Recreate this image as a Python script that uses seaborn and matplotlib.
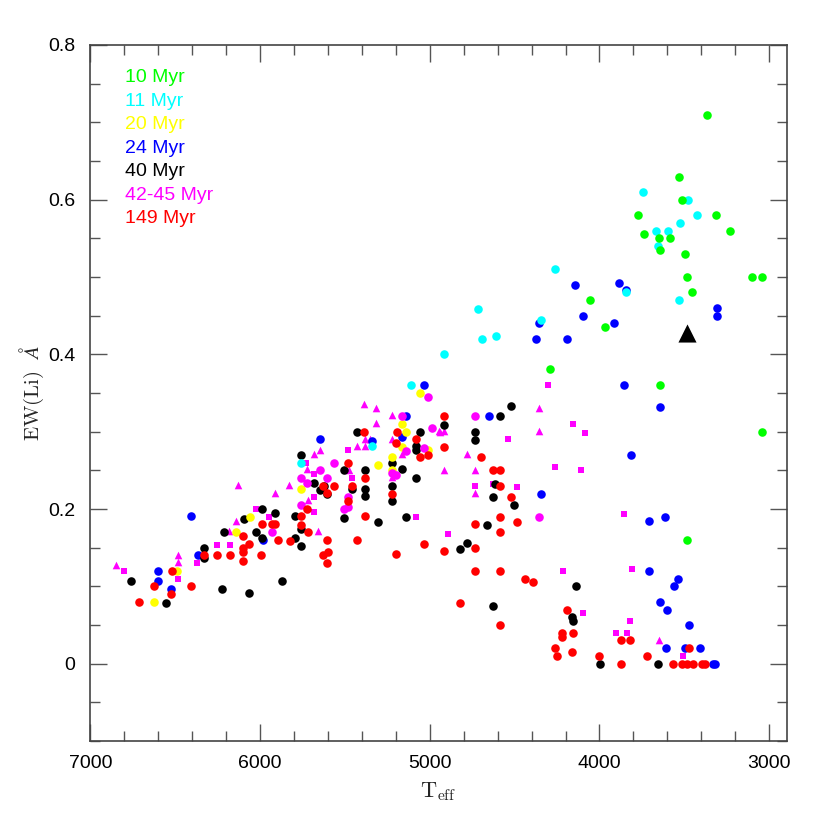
import matplotlib
matplotlib.use("Agg")
import matplotlib.pyplot as plt
import seaborn as sns
from matplotlib.ticker import MultipleLocator

# Li equivalent width vs Teff, one group per cluster age
green_T = [3369, 3529, 3511, 3775, 3316, 3233, 3737, 3649, 3586, 3643, 3497, 3487, 3100, 3043, 3452, 4056, 3969, 4294, 3643, 3043, 3487]
green_EW = [0.71, 0.629, 0.60, 0.58, 0.58, 0.56, 0.555, 0.55, 0.55, 0.535, 0.53, 0.50, 0.50, 0.50, 0.48, 0.47, 0.435, 0.381, 0.36, 0.30, 0.16]

cyan_T = [3743, 3481, 3426, 3525, 3667, 3597, 3655, 3845, 3533, 4264, 4718, 4347, 4691, 4612, 4915, 5110, 5342, 5759]
cyan_EW = [0.61, 0.60, 0.58, 0.57, 0.56, 0.56, 0.54, 0.48, 0.47, 0.51, 0.459, 0.445, 0.42, 0.424, 0.40, 0.36, 0.281, 0.26]

yellow_T = [5057, 5165, 5139, 5163, 5008, 5303, 5220, 5220, 5759, 6062, 6140, 6487, 6622]
yellow_EW = [0.35, 0.31, 0.30, 0.28, 0.276, 0.257, 0.267, 0.25, 0.226, 0.19, 0.17, 0.12, 0.08]

blue_T = [3885, 3845, 3308, 3310, 3916, 4144, 4095, 4358, 4372, 4193, 4652, 4347, 3855, 3643, 3812,
          3711, 3613, 3710, 3539, 3560, 3643, 3602, 3475, 3608, 3495, 3409, 3330, 3320, 5033, 5137,
          5165, 5342, 5645, 5983, 6406, 6599, 6599, 6524, 6366]
blue_EW = [0.492, 0.483, 0.46, 0.45, 0.44, 0.49, 0.45, 0.44, 0.42, 0.42, 0.32, 0.22, 0.36, 0.332, 0.27,
           0.185, 0.19, 0.12, 0.11, 0.10, 0.08, 0.07, 0.05, 0.02, 0.02, 0.02, 0.0, 0.0, 0.36, 0.32,
           0.293, 0.288, 0.29, 0.16, 0.191, 0.12, 0.107, 0.096, 0.14]

black_T = [6760, 6555, 6225, 6064, 6329, 6329, 6215, 6093, 6026, 5987, 5987, 5912, 5873, 5794, 5794,
           5759, 5759, 5759, 5682, 5645, 5605, 5625, 5503, 5503, 5431, 5381, 5381, 5381, 5456, 5303,
           5220, 5220, 5220, 5165, 5139, 5083, 5083, 5080, 5055, 4522, 4585, 4915, 4732, 4732, 4630,
           4616, 4504, 4661, 4782, 4823, 4630, 4136, 4162, 4154, 3995, 3655]
black_EW = [0.107, 0.079, 0.097, 0.091, 0.15, 0.137, 0.17, 0.187, 0.17, 0.2, 0.162, 0.195, 0.107, 0.191, 0.163,
            0.152, 0.174, 0.27, 0.233, 0.224, 0.219, 0.23, 0.25, 0.189, 0.30, 0.25, 0.226, 0.217, 0.226, 0.183,
            0.26, 0.23, 0.21, 0.252, 0.19, 0.281, 0.276, 0.24, 0.30, 0.333, 0.32, 0.308, 0.30, 0.289, 0.216,
            0.232, 0.205, 0.179, 0.156, 0.148, 0.074, 0.10, 0.06, 0.055, 0.0, 0.0]

# 42-45 Myr: three samples, three marker shapes
mag_circ_T = [5930, 5008, 5165, 4986, 5139, 5031, 5566, 5645, 5759, 5723, 5605, 5759, 5481, 5503, 5481, 5196, 5222, 4732, 4358]
mag_circ_EW = [0.17, 0.345, 0.32, 0.305, 0.275, 0.279, 0.26, 0.25, 0.24, 0.234, 0.24, 0.205, 0.216, 0.2, 0.202, 0.244, 0.246, 0.32, 0.19]

mag_sq_T = [6799, 6483, 6369, 6254, 6178, 6026, 5950, 5727, 5680, 5680, 5680, 5480, 5456, 5080, 4305, 4154,
            4085, 4536, 4262, 4107, 4732, 4630, 4483, 4890, 4213, 4095, 3855, 3810, 3818, 3904, 3835, 3505]
mag_sq_EW = [0.12, 0.11, 0.13, 0.154, 0.154, 0.2, 0.19, 0.26, 0.245, 0.216, 0.196, 0.276, 0.24, 0.19, 0.36, 0.31,
             0.298, 0.291, 0.254, 0.251, 0.23, 0.232, 0.229, 0.168, 0.12, 0.065, 0.194, 0.123, 0.055, 0.04, 0.04, 0.01]

mag_tri_T = [6848, 6483, 6483, 6129, 6140, 6180, 5912, 5832, 5721, 5680, 5645, 5717, 5661, 5475, 5428, 5387, 5314, 5314,
             5381, 5350, 5381, 5222, 5222, 5220, 5165, 4937, 4358, 4358, 4943, 4915, 4779, 4915, 4732, 4732, 3649]
mag_tri_EW = [0.127, 0.141, 0.131, 0.231, 0.184, 0.171, 0.221, 0.231, 0.252, 0.271, 0.276, 0.212, 0.171, 0.25, 0.281, 0.336, 0.331, 0.311,
              0.291, 0.291, 0.281, 0.321, 0.291, 0.241, 0.271, 0.30, 0.331, 0.301, 0.301, 0.301, 0.271, 0.251, 0.251, 0.221, 0.031]

red_T = [6711, 6622, 6524, 6520, 6406, 6329, 6254, 6178, 6101, 6101, 6101, 6101, 6064, 5995, 5987, 5930, 5910,
         5894, 5826, 5759, 5759, 5723, 5717, 5629, 5603, 5566, 5605, 5629, 5598, 5603, 5480, 5456, 5480, 5431,
         5385, 5381, 5381, 5220, 5196, 5192, 5196, 5080, 5055, 5008, 5033, 4915, 4915, 4697, 4626, 4585, 4585,
         4520, 4585, 4487, 4732, 4585, 4732, 4915, 4732, 4585, 4437, 4390, 4823, 4585, 4193, 4220, 4220, 4154,
         4264, 4252, 4162, 4005, 3873, 3823, 3873, 3721, 3564, 3515, 3485, 3450, 3475, 3393, 3377]
red_EW = [0.08, 0.10, 0.09, 0.12, 0.10, 0.14, 0.14, 0.14, 0.165, 0.15, 0.144, 0.133, 0.155, 0.14, 0.18, 0.18, 0.18,
          0.16, 0.158, 0.191, 0.179, 0.2, 0.17, 0.23, 0.221, 0.23, 0.16, 0.14, 0.145, 0.13, 0.26, 0.23, 0.21, 0.16,
          0.30, 0.24, 0.191, 0.22, 0.142, 0.30, 0.285, 0.29, 0.267, 0.27, 0.155, 0.32, 0.28, 0.267, 0.25, 0.25, 0.23,
          0.216, 0.19, 0.183, 0.18, 0.17, 0.15, 0.146, 0.12, 0.12, 0.11, 0.105, 0.078, 0.05, 0.07, 0.04, 0.034, 0.04,
          0.02, 0.01, 0.015, 0.01, 0.031, 0.031, 0.0, 0.01, 0.0, 0.0, 0.0, 0.0, 0.02, 0.0, 0.0]

star_T = [3485]
star_EW = [0.428]

legend_labels = ["10 Myr", "11 Myr", "20 Myr", "24 Myr", "40 Myr", "42-45 Myr", "149 Myr"]
legend_colors = ["#00ff00", "#00ffff", "#ffff00", "#0000ff", "#000000", "#ff00ff", "#ff0000"]

x_ticks = [7000, 6000, 5000, 4000, 3000]
y_ticks = [0, 0.2, 0.4, 0.6, 0.8]
y_tick_labels = ["0", "0.2", "0.4", "0.6", "0.8"]

sns.set_theme(style="ticks")
plt.rcParams["font.family"] = ["Liberation Sans", "DejaVu Sans"]
plt.rcParams["mathtext.fontset"] = "cm"

fig = plt.figure(figsize=(8.3, 8.3), dpi=100)
ax = fig.add_axes([0.1088, 0.1072, 0.839, 0.8386])

# draw order: magenta samples underneath, red on top
groups = [
    (mag_tri_T, mag_tri_EW, "#ff00ff", "^", 30),
    (mag_sq_T, mag_sq_EW, "#ff00ff", "s", 22),
    (blue_T, blue_EW, "#0000ff", "o", 38),
    (black_T, black_EW, "#000000", "o", 38),
    (yellow_T, yellow_EW, "#ffff00", "o", 38),
    (mag_circ_T, mag_circ_EW, "#ff00ff", "o", 38),
    (cyan_T, cyan_EW, "#00ffff", "o", 38),
    (green_T, green_EW, "#00ff00", "o", 38),
    (red_T, red_EW, "#ff0000", "o", 38),
]
for xs, ys, col, mk, sz in groups:
    sns.scatterplot(x=xs, y=ys, color=col, marker=mk, s=sz, linewidth=0, ax=ax, legend=False)

sns.scatterplot(x=star_T, y=star_EW, color="black", marker="^", s=170, linewidth=0, ax=ax, legend=False)

ax.set_xlim(7000, 2897)
ax.set_ylim(-0.1, 0.8)
ax.set_xticks(x_ticks)
ax.set_yticks(y_ticks, labels=y_tick_labels)
ax.xaxis.set_minor_locator(MultipleLocator(200))
ax.yaxis.set_minor_locator(MultipleLocator(0.05))
ax.tick_params(which="both", direction="in", top=True, right=True, colors="#555555", labelcolor="black")
ax.tick_params(which="major", length=12, width=1, labelsize=14)
ax.tick_params(axis="x", which="major", pad=10)
ax.tick_params(axis="y", which="major", pad=11)
ax.tick_params(which="minor", length=7, width=1)
for sp in ax.spines.values():
    sp.set_color("#444444")
    sp.set_linewidth(1.2)

ax.set_xlabel(r"$\mathrm{T_{eff}}$", fontsize=16, labelpad=6)
ax.set_ylabel(r"$\mathrm{EW(Li)}\ \ \AA$", fontsize=15, labelpad=1)

for i, (lab, col) in enumerate(zip(legend_labels, legend_colors)):
    ax.text(0.05, 0.953 - i * 0.0338, lab, color=col, fontsize=14,
            transform=ax.transAxes, va="center", ha="left")

fig.savefig("out.png", dpi=100)
